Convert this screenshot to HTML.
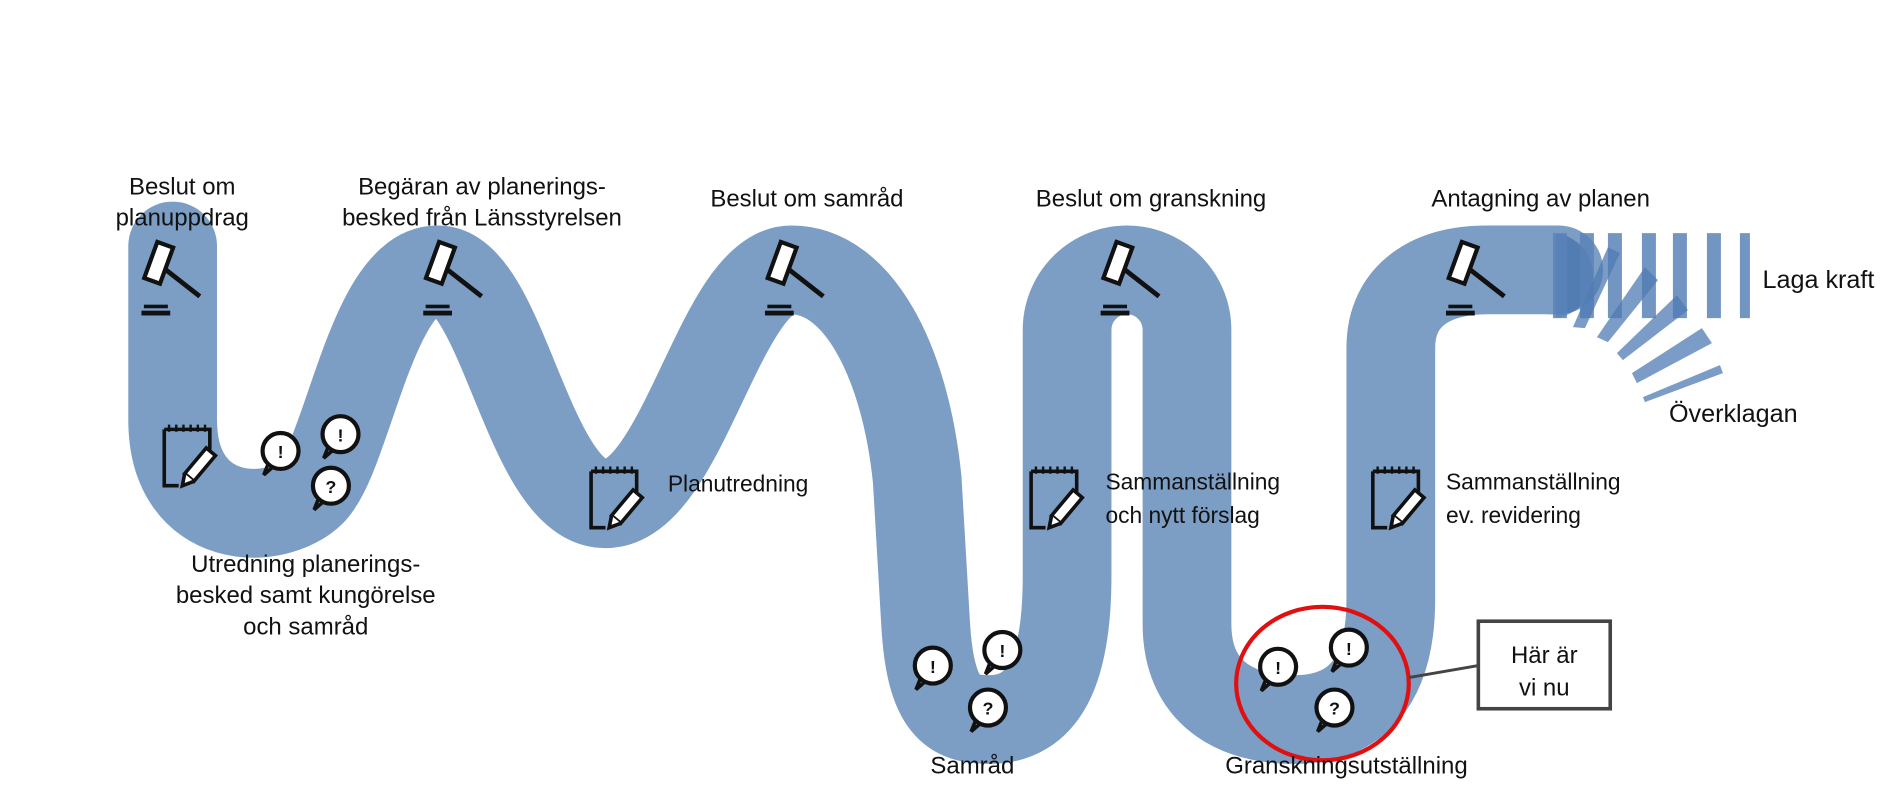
<!DOCTYPE html>
<html><head><meta charset="utf-8"><style>
html,body{margin:0;padding:0;background:#fff;}
svg{display:block;}
text{font-family:"Liberation Sans",Arial,sans-serif;fill:#111;}
</style></head><body>
<svg width="1880" height="806" viewBox="0 0 1568 672" xmlns="http://www.w3.org/2000/svg">
<defs>
<g id="gavel">
 <g transform="rotate(38)">
  <line x1="0" y1="0" x2="44" y2="0" stroke="#111" stroke-width="4"/>
 </g>
 <g transform="rotate(20)">
  <rect x="-7" y="-17" width="14" height="32" fill="#fff" stroke="#111" stroke-width="3.5"/>
 </g>
 <rect x="-12" y="34" width="20" height="3" fill="#111"/>
 <rect x="-14" y="39" width="24" height="4" fill="#111"/>
</g>
<g id="pad">
 <path d="M-20,-22 L18,-22 L18,-5 M-20,-22 L-20,25 L-8,25" fill="none" stroke="#111" stroke-width="3"/>
 <path d="M-16,-26 v6 M-10,-26 v6 M-4,-26 v6 M2,-26 v6 M8,-26 v6 M14,-26 v6" stroke="#111" stroke-width="2"/>
 <g transform="translate(6,12) rotate(40)">
  <rect x="-5" y="-20" width="10" height="28" fill="#fff" stroke="#111" stroke-width="3"/>
  <path d="M-5,8 L0,17 L5,8" fill="#fff" stroke="#111" stroke-width="3"/>
 </g>
</g>
<g id="bub">
 <path d="M-6,13 L-14,20 L-10,10" fill="#fff" stroke="#111" stroke-width="3"/>
 <circle cx="0" cy="0" r="15" fill="#fff" stroke="#111" stroke-width="3.5"/>
</g>
</defs>

<path d="M144,205 L144,350 C144,440 230,440 260,410 C290,380 310,225 365,225 C420,225 440,420 505,420 C570,420 600,225 660,225 C715,225 755,300 765,400 L772,520 C776,590 795,600 825,600 C870,600 890,560 890,480 L890,275 A50,50 0 0 1 990,275 L990,520 C990,585 1040,600 1080,600 C1130,600 1160,570 1160,500 L1160,290 C1160,245 1195,225 1240,225 L1300,225" fill="none" stroke="#7d9ec4" stroke-width="74" stroke-linecap="round"/>
<rect x="1290" y="188" width="12" height="74" fill="#7d9ec4"/>

<g transform="scale(0.8340)">
 <path d="M1556,233 A44,43 0 0 1 1556,318 Z" fill="#2e62a6" opacity="0.55"/>
 <g fill="#5a83b8" opacity="0.85">
  <rect x="1553" y="233" width="14" height="85"/>
  <rect x="1580" y="233" width="14" height="85"/>
  <rect x="1608" y="233" width="14" height="85"/>
  <rect x="1642" y="233" width="14" height="85"/>
  <rect x="1673" y="233" width="14" height="85"/>
  <rect x="1707" y="233" width="14" height="85"/>
  <rect x="1740" y="233" width="10" height="85"/>
 </g>
 <g fill="#4f7bb4" opacity="0.75">
  <polygon points="1573,327 1585,328 1620,253 1608,247"/>
  <polygon points="1597,337 1608,342 1658,280 1645,267"/>
  <polygon points="1617,353 1623,360 1688,310 1677,295"/>
  <polygon points="1632,373 1637,383 1712,343 1702,328"/>
  <polygon points="1643,397 1645,402 1723,373 1720,365"/>
 </g>
</g>

<use href="#gavel" x="132" y="220"/>
<use href="#gavel" x="367" y="220"/>
<use href="#gavel" x="652" y="220"/>
<use href="#gavel" x="932" y="220"/>
<use href="#gavel" x="1220" y="220"/>

<use href="#pad" x="157" y="380"/>
<use href="#pad" x="513" y="415"/>
<use href="#pad" x="880" y="415"/>
<use href="#pad" x="1165" y="415"/>

<g font-size="15" font-weight="bold" text-anchor="middle">
 <use href="#bub" x="234" y="376"/><text x="234" y="382">!</text>
 <use href="#bub" x="284" y="362"/><text x="284" y="368">!</text>
 <use href="#bub" x="276" y="405"/><text x="276" y="411">?</text>
 <use href="#bub" x="778" y="555"/><text x="778" y="561">!</text>
 <use href="#bub" x="836" y="542"/><text x="836" y="548">!</text>
 <use href="#bub" x="824" y="590"/><text x="824" y="596">?</text>
 <use href="#bub" x="1066" y="556"/><text x="1066" y="562">!</text>
 <use href="#bub" x="1125" y="540"/><text x="1125" y="546">!</text>
 <use href="#bub" x="1113" y="590"/><text x="1113" y="596">?</text>
</g>

<ellipse cx="1103" cy="570" rx="72" ry="64" fill="none" stroke="#e01010" stroke-width="3.5"/>
<line x1="1175" y1="565" x2="1233" y2="555" stroke="#444" stroke-width="2.5"/>
<rect x="1233" y="518" width="110" height="73" fill="#fff" stroke="#444" stroke-width="3"/>

<g font-size="20" text-anchor="middle">
 <text x="152" y="162">Beslut om</text>
 <text x="152" y="188">planuppdrag</text>
 <text x="402" y="162">Begäran av planerings-</text>
 <text x="402" y="188">besked från Länsstyrelsen</text>
 <text x="673" y="172">Beslut om samråd</text>
 <text x="960" y="172">Beslut om granskning</text>
 <text x="1285" y="172">Antagning av planen</text>
 <text x="255" y="477">Utredning planerings-</text>
 <text x="255" y="503">besked samt kungörelse</text>
 <text x="255" y="529">och samråd</text>
 <text x="811" y="645">Samråd</text>
 <text x="1123" y="645">Granskningsutställning</text>
 <text x="1288" y="553">Här är</text>
 <text x="1288" y="580">vi nu</text>
</g>
<g font-size="19">
 <text x="557" y="410">Planutredning</text>
 <text x="922" y="408">Sammanställning</text>
 <text x="922" y="436">och nytt förslag</text>
 <text x="1206" y="408">Sammanställning</text>
 <text x="1206" y="436">ev. revidering</text>
</g>
<g font-size="21">
 <text x="1470" y="240">Laga kraft</text>
 <text x="1392" y="352">Överklagan</text>
</g>
</svg>
</body></html>
